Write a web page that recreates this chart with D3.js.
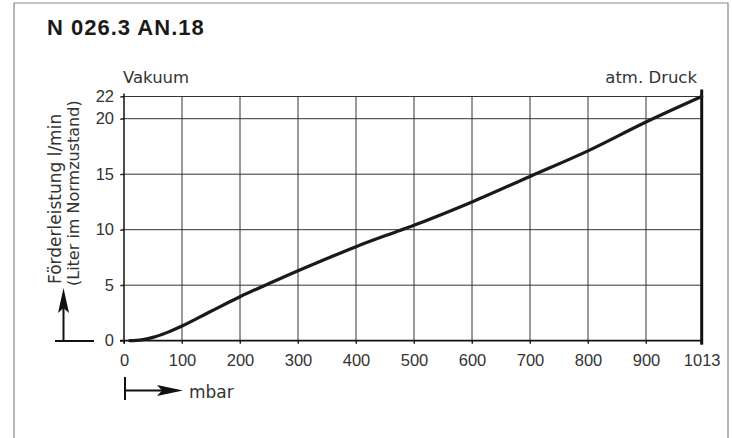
<!DOCTYPE html>
<html>
<head>
<meta charset="utf-8">
<script src="https://cdn.jsdelivr.net/npm/d3@7"></script>
<style>
  body { margin: 0; background: #fff; }
  svg { display: block; }
  .num { font-family: "Liberation Sans", Arial, sans-serif; font-size: 16.5px; fill: #333; }
  .lbl { font-family: "DejaVu Sans", sans-serif; font-size: 16.5px; fill: #333; }
</style>
</head>
<body>
<svg id="chart" width="732" height="438"></svg>
<script>
// pressure in mbar, flow in l/min
var pressure = [10, 30, 50, 75, 100, 150, 200, 250, 300, 350, 400, 450, 500, 600, 700, 800, 900, 1013]
var flow = [0, 0.08, 0.3, 0.75, 1.32, 2.65, 3.96, 5.15, 6.3, 7.4, 8.47, 9.45, 10.4, 12.5, 14.8, 17.1, 19.7, 22]
var xTicks = [0, 100, 200, 300, 400, 500, 600, 700, 800, 900, 1013]
var yTicks = [0, 5, 10, 15, 20, 22]

var svg = d3.select('#chart')
var margin = {top: 96.5, left: 124}
var innerw = 577.7
var innerh = 244.2

// outer frame
svg.append('path')
    .attr('d', 'M14,440V3H728V440')
    .attr('fill', 'none')
    .attr('stroke', '#888')
    .attr('stroke-width', 1.2)

svg.append('text')
    .attr('x', 47)
    .attr('y', 35)
    .style('font-family', '"Liberation Sans", Arial, sans-serif')
    .style('font-weight', 'bold')
    .style('font-size', '22px')
    .style('letter-spacing', '1px')
    .style('fill', '#1a1a1a')
    .text('N 026.3 AN.18')

var g = svg.append('g')
    .attr('transform', `translate(${margin.left},${margin.top})`)

// the original grid squeezes the last step 900 -> 1013
var mapx = d3.scaleLinear()
    .domain([0, 900, 1013])
    .range([0, innerw * 522 / 577.7, innerw])

var mapy = d3.scaleLinear()
    .domain([0, 22])
    .range([innerh, 0])

/*
    grid
*/
g.append('g').selectAll('line.v')
    .data(xTicks.slice(1, -1))
    .enter().append('line')
    .attr('x1', d => mapx(d)).attr('x2', d => mapx(d))
    .attr('y1', 0).attr('y2', innerh + 3)
    .attr('stroke', '#333')
    .attr('stroke-width', 1)

g.append('g').selectAll('line.h')
    .data(yTicks.slice(1))
    .enter().append('line')
    .attr('x1', -3).attr('x2', innerw)
    .attr('y1', d => mapy(d)).attr('y2', d => mapy(d))
    .attr('stroke', '#333')
    .attr('stroke-width', 1)

/*
    axes
*/
var xAxis = d3.axisBottom(mapx)
    .tickValues(xTicks)
    .tickSize(3)
    .tickPadding(10)
    .tickFormat(d3.format('d'))

var ax = g.append('g')
    .attr('transform', `translate(0,${innerh})`)
    .call(xAxis)
ax.select('.domain').remove()
ax.selectAll('line').attr('stroke', '#222')
ax.selectAll('text').attr('class', 'num').attr('fill', null)
    .attr('dy', '0.75em')

var yAxis = d3.axisLeft(mapy)
    .tickValues(yTicks)
    .tickSize(4)
    .tickPadding(6)

var ay = g.append('g').call(yAxis)
ay.select('.domain').remove()
ay.selectAll('line').attr('stroke', '#222')
ay.selectAll('text').attr('class', 'num').attr('fill', null)

// axis lines
g.append('line')
    .attr('x1', 0).attr('x2', 0)
    .attr('y1', -3).attr('y2', innerh + 3)
    .attr('stroke', '#111').attr('stroke-width', 1.5)
g.append('line')
    .attr('x1', -4).attr('x2', innerw)
    .attr('y1', innerh).attr('y2', innerh)
    .attr('stroke', '#111').attr('stroke-width', 1.8)
g.append('line')
    .attr('x1', innerw).attr('x2', innerw)
    .attr('y1', -7).attr('y2', innerh + 4)
    .attr('stroke', '#111').attr('stroke-width', 3)

/*
    curve
*/
var pts = pressure.map((p, i) => [p, flow[i]])
var line = d3.line()
    .x(d => mapx(d[0]))
    .y(d => mapy(d[1]))
    .curve(d3.curveMonotoneX)

g.append('path')
    .attr('d', line(pts))
    .attr('fill', 'none')
    .attr('stroke', '#1a1a1a')
    .attr('stroke-width', 3.2)
    .attr('stroke-linecap', 'round')

/*
    labels
*/
svg.append('text').attr('class', 'lbl')
    .attr('x', 123).attr('y', 83)
    .text('Vakuum')

svg.append('text').attr('class', 'lbl')
    .attr('x', 697).attr('y', 83)
    .style('text-anchor', 'end')
    .text('atm. Druck')

svg.append('text').attr('class', 'lbl')
    .attr('transform', 'translate(61,284) rotate(-90)')
    .style('font-size', '17px')
    .text('Förderleistung l/min')

svg.append('text').attr('class', 'lbl')
    .attr('transform', 'translate(79,286) rotate(-90)')
    .style('font-size', '16px')
    .text('(Liter im Normzustand)')

svg.append('text').attr('class', 'lbl')
    .attr('x', 189).attr('y', 398)
    .style('font-size', '17px')
    .text('mbar')

// arrows
var arrows = svg.append('g').attr('stroke', '#111').attr('fill', '#111')
arrows.append('line')
    .attr('x1', 125).attr('x2', 125).attr('y1', 377).attr('y2', 400)
    .attr('stroke-width', 2)
arrows.append('line')
    .attr('x1', 125).attr('x2', 165).attr('y1', 390.5).attr('y2', 390.5)
    .attr('stroke-width', 2)
arrows.append('path')
    .attr('d', 'M183,390.5L157,385L162,390.5L157,396Z')
    .attr('stroke', 'none')

arrows.append('line')
    .attr('x1', 55).attr('x2', 94).attr('y1', 341).attr('y2', 341)
    .attr('stroke-width', 2)
arrows.append('line')
    .attr('x1', 63.5).attr('x2', 63.5).attr('y1', 341).attr('y2', 305)
    .attr('stroke-width', 2)
arrows.append('path')
    .attr('d', 'M63.5,288L58,313L63.5,308L69,313Z')
    .attr('stroke', 'none')
</script>
</body>
</html>
